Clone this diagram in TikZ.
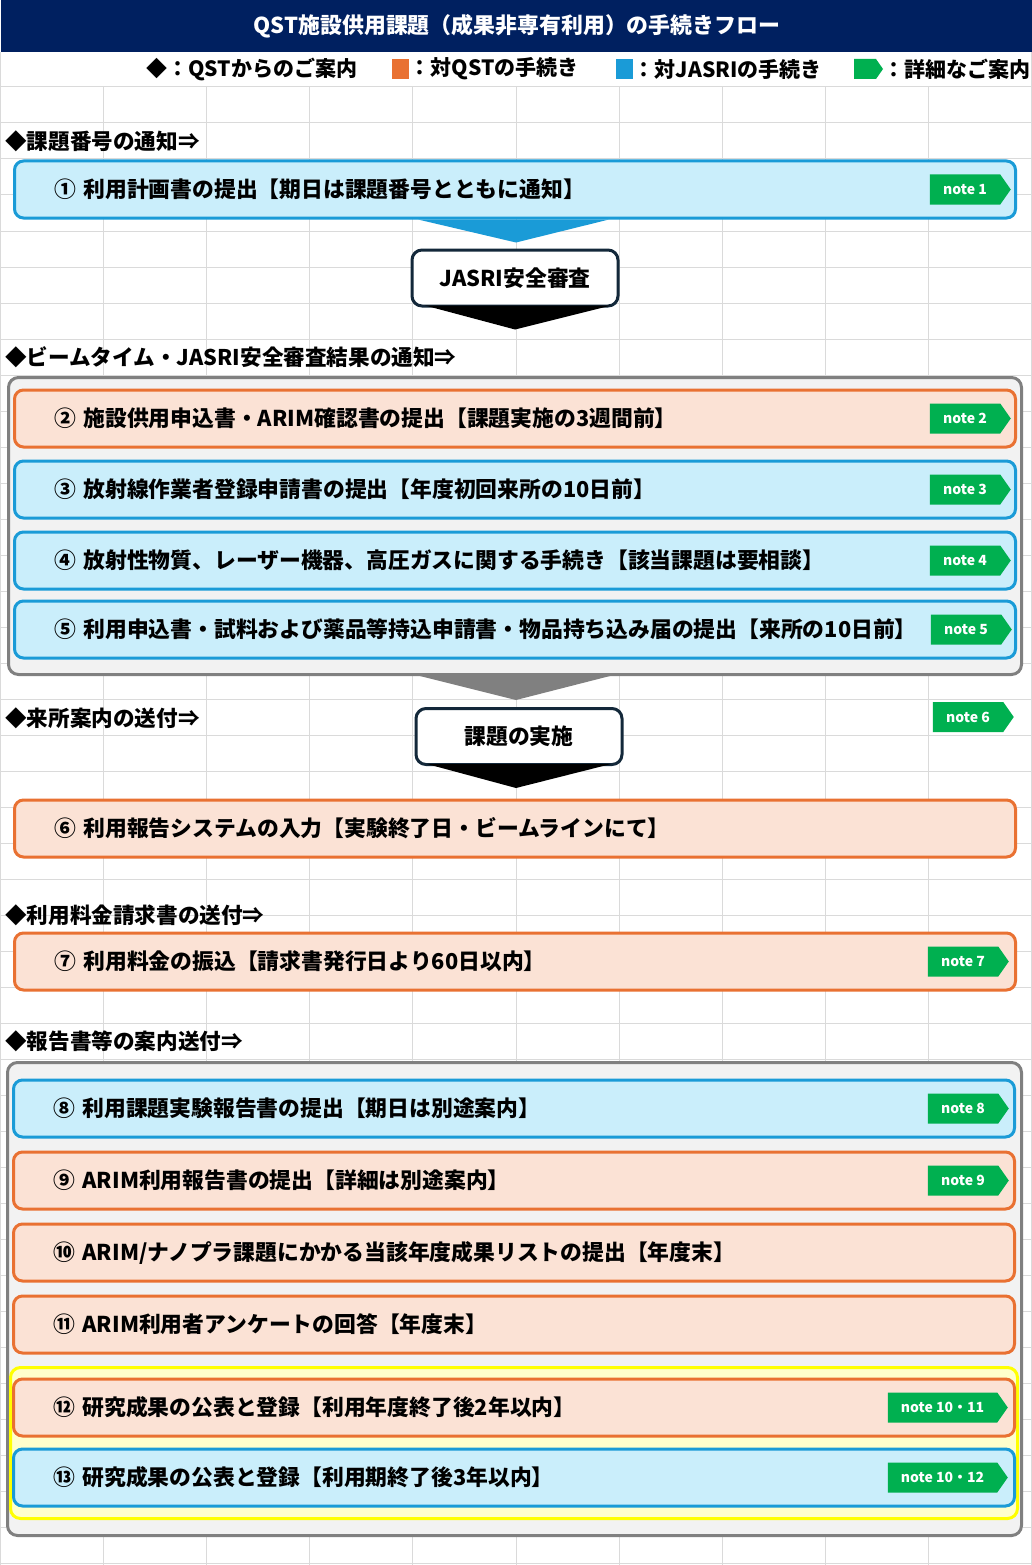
\documentclass[tikz,border=0pt]{standalone}
\usepackage{fontspec}
\setmainfont{Noto Sans CJK JP}
\usetikzlibrary{positioning,shapes.symbols,calc}

\definecolor{titlenavy}{HTML}{002060}
\definecolor{qstorange}{HTML}{E97132}
\definecolor{qstfill}{HTML}{FBE2D5}
\definecolor{jasriblue}{HTML}{1A9BD7}
\definecolor{jasrifill}{HTML}{CAEEFB}
\definecolor{notegreen}{HTML}{00B050}
\definecolor{groupgray}{HTML}{808080}
\definecolor{groupfill}{HTML}{F2F2F2}
\definecolor{hiyellow}{HTML}{FFFF00}
\definecolor{hifill}{HTML}{FFFFCC}
\definecolor{darkline}{HTML}{13283A}
\definecolor{gridgray}{HTML}{DADADA}

\tikzset{
  gridline/.style={draw=gridgray, line width=1pt},
  stepbox/.style={draw, line width=3pt, rounded corners=9pt, minimum height=57pt, text width=921pt, inner xsep=40pt, inner ysep=0pt, align=left, font=\bfseries\fontsize{21.8}{24}\selectfont},
  toqst/.style={stepbox, draw=qstorange, fill=qstfill},
  tojasri/.style={stepbox, draw=jasriblue, fill=jasrifill},
  notetag/.style={signal, signal to=east, signal pointer angle=110, fill=notegreen, text=white, minimum height=30pt, minimum width=81pt, inner xsep=4pt, font=\bfseries\fontsize{14}{16}\selectfont},
  heading/.style={anchor=west, inner sep=0pt, font=\bfseries\fontsize{21.6}{24}\selectfont},
  legend/.style={anchor=west, inner sep=0pt, font=\bfseries\fontsize{21}{24}\selectfont},
  reviewbox/.style={draw=darkline, fill=white, line width=3pt, rounded corners=10pt, minimum width=206pt, minimum height=56pt, font=\bfseries\fontsize{21.8}{24}\selectfont},
  groupbox/.style={draw=groupgray, fill=groupfill, line width=3pt, rounded corners=10pt},
}

\begin{document}
\begin{tikzpicture}[x=1pt, y=-1pt]
    \useasboundingbox (0,0) rectangle (1032,1565);
    \fill[white] (0,0) rectangle (1032,1565);

    % Sheet grid
    \foreach \gx in {1,...,9}
        \draw[gridline] (\gx*103.2,87) -- (\gx*103.2,1565);
    \foreach \gy in {0,...,41}
        \draw[gridline] (0,87+\gy*36) -- (1032,87+\gy*36);
    \draw[gridline] (0.5,52) -- (0.5,1565);
    \draw[gridline] (1031.5,52) -- (1031.5,1565);

    % Title and legend
    \node[fill=titlenavy, text=white, minimum width=1032pt, minimum height=52pt, inner sep=0pt, font=\bfseries\fontsize{21.9}{24}\selectfont] (title) at (517,26) {QST施設供用課題（成果非専有利用）の手続きフロー};
    \node[legend] (lgfromqst) at (146,69) {◆：QSTからのご案内};
    \node[fill=qstorange, minimum width=17pt, minimum height=20pt, inner sep=0pt] (mkqst) at (400,69) {};
    \node[legend, right=1pt of mkqst] (lgqst) {：対QSTの手続き};
    \node[fill=jasriblue, minimum width=17pt, minimum height=20pt, inner sep=0pt] (mkjasri) at (624,69) {};
    \node[legend, right=1pt of mkjasri] (lgjasri) {：対JASRIの手続き};
    \node[signal, signal to=east, signal pointer angle=110, fill=notegreen, minimum width=29pt, minimum height=20pt, inner sep=0pt] (mknote) at (865,69) {};
    \node[legend, right=0pt of mknote] (lgnote) {：詳細なご案内};

    % Step 1 and safety review
    \node[heading] (hnumber) at (5,141) {◆課題番号の通知⇒};
    \node[tojasri] (plan) at (515,189.5) {① 利用計画書の提出【期日は課題番号とともに通知】};
    \node[notetag, left=6pt of plan.east] (note1) {note 1};
    \node[reviewbox, below=29pt of plan] (review) {JASRI安全審査};
    \fill[jasriblue] ($(plan.south)+(-97,0)$) -- ($(plan.south)+(94,0)$) -- ($(plan.south)+(1,23)$) -- cycle;
    \fill[black] ($(review.south)+(-90,-2)$) -- ($(review.south)+(96,-2)$) -- ($(review.south)+(0,22)$) -- cycle;

    % Steps 2-5
    \node[heading] (hbeam) at (5,357) {◆ビームタイム・JASRI安全審査結果の通知⇒};
    \node[groupbox, minimum width=1013pt, minimum height=297pt] (grpbeam) at (515,526) {};
    \node[toqst] (apply) at (515,418.5) {② 施設供用申込書・ARIM確認書の提出【課題実施の3週間前】};
    \node[notetag, left=6pt of apply.east] (note2) {note 2};
    \node[tojasri] (radiation) at (515,489.5) {③ 放射線作業者登録申請書の提出【年度初回来所の10日前】};
    \node[notetag, left=6pt of radiation.east] (note3) {note 3};
    \node[tojasri] (hazard) at (515,560.5) {④ 放射性物質、レーザー機器、高圧ガスに関する手続き【該当課題は要相談】};
    \node[notetag, left=6pt of hazard.east] (note4) {note 4};
    \node[tojasri] (carryin) at (515,629.5) {⑤ 利用申込書・試料および薬品等持込申請書・物品持ち込み届の提出【来所の10日前】};
    \node[notetag, left=5pt of carryin.east] (note5) {note 5};
    \fill[groupgray] ($(grpbeam.south)+(-95,0)$) -- ($(grpbeam.south)+(95,0)$) -- ($(grpbeam.south)+(1,24)$) -- cycle;

    % Experiment
    \node[heading] (hvisit) at (5,718) {◆来所案内の送付⇒};
    \node[notetag] (note6) at (968,717) {note 6};
    \node[reviewbox] (experiment) at (519,736.5) {課題の実施};
    \fill[black] ($(experiment.south)+(-92,-2)$) -- ($(experiment.south)+(92,-2)$) -- ($(experiment.south)+(-3,22)$) -- cycle;
    \node[toqst] (usereport) at (515,828.5) {⑥ 利用報告システムの入力【実験終了日・ビームラインにて】};

    % Fee
    \node[heading] (hfee) at (5,915) {◆利用料金請求書の送付⇒};
    \node[toqst] (payment) at (515,961.5) {⑦ 利用料金の振込【請求書発行日より60日以内】};
    \node[notetag, left=8pt of payment.east] (note7) {note 7};

    % Reports
    \node[heading] (hreport) at (5,1041) {◆報告書等の案内送付⇒};
    \node[groupbox, minimum width=1014pt, minimum height=473pt] (grpreport) at (514.5,1299) {};
    \node[draw=hiyellow, fill=hifill, line width=3pt, rounded corners=10pt, minimum width=1007pt, minimum height=151pt] (grppublish) at (514,1443) {};
    \node[tojasri] (expreport) at (514,1108.5) {⑧ 利用課題実験報告書の提出【期日は別途案内】};
    \node[notetag, left=7pt of expreport.east] (note8) {note 8};
    \node[toqst] (arimreport) at (514,1180.5) {⑨ ARIM利用報告書の提出【詳細は別途案内】};
    \node[notetag, left=7pt of arimreport.east] (note9) {note 9};
    \node[toqst] (resultlist) at (514,1252.5) {⑩ ARIM/ナノプラ課題にかかる当該年度成果リストの提出【年度末】};
    \node[toqst] (survey) at (514,1324.5) {⑪ ARIM利用者アンケートの回答【年度末】};
    \node[toqst] (publish2) at (514,1407.5) {⑫ 研究成果の公表と登録【利用年度終了後2年以内】};
    \node[notetag, minimum width=120pt, left=8pt of publish2.east] (note1011) {note 10・11};
    \node[tojasri] (publish3) at (514,1477.5) {⑬ 研究成果の公表と登録【利用期終了後3年以内】};
    \node[notetag, minimum width=120pt, left=8pt of publish3.east] (note1012) {note 10・12};
\end{tikzpicture}
\end{document}
